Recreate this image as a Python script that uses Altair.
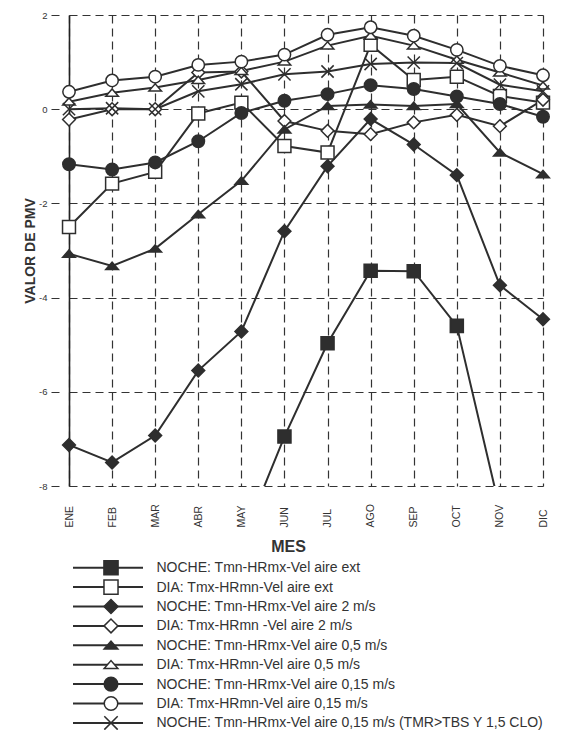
import altair as alt
import pandas as pd

meses = ["ENE", "FEB", "MAR", "ABR", "MAY", "JUN", "JUL", "AGO", "SEP", "OCT", "NOV", "DIC"]

series = [
    "NOCHE: Tmn-HRmx-Vel aire ext",
    "DIA: Tmx-HRmn-Vel aire ext",
    "NOCHE: Tmn-HRmx-Vel aire 2 m/s",
    "DIA: Tmx-HRmn -Vel aire 2 m/s",
    "NOCHE: Tmn-HRmx-Vel aire 0,5 m/s",
    "DIA: Tmx-HRmn-Vel aire 0,5 m/s",
    "NOCHE: Tmn-HRmx-Vel aire 0,15 m/s",
    "DIA: Tmx-HRmn-Vel aire 0,15 m/s",
    "NOCHE: Tmn-HRmx-Vel aire 0,15 m/s (TMR>TBS Y 1,5 CLO)",
]

noche_ext = [None, None, None, None, -9.2, -6.95, -4.97, -3.43, -3.44, -4.60, -8.5, None]
dia_ext = [-2.50, -1.58, -1.33, -0.09, 0.14, -0.78, -0.92, 1.37, 0.62, 0.69, 0.28, 0.14]
noche_2 = [-7.13, -7.50, -6.93, -5.55, -4.72, -2.59, -1.21, -0.21, -0.75, -1.40, -3.74, -4.46]
dia_2 = [-0.22, 0.0, 0.0, 0.78, 0.80, -0.25, -0.46, -0.53, -0.28, -0.12, -0.36, 0.20]
noche_05 = [-3.07, -3.33, -2.96, -2.23, -1.52, -0.43, 0.07, 0.10, 0.07, 0.11, -0.92, -1.38]
dia_05 = [0.16, 0.35, 0.46, 0.62, 0.81, 1.01, 1.35, 1.56, 1.35, 1.05, 0.78, 0.50]
noche_015 = [-1.17, -1.28, -1.13, -0.68, -0.08, 0.18, 0.32, 0.51, 0.43, 0.27, 0.11, -0.16]
dia_015 = [0.37, 0.61, 0.69, 0.94, 1.01, 1.16, 1.58, 1.74, 1.56, 1.26, 0.92, 0.72]
noche_015_tmr = [0.0, 0.02, 0.0, 0.38, 0.53, 0.74, 0.80, 0.96, 0.99, 0.98, 0.52, 0.38]

valores = [noche_ext, dia_ext, noche_2, dia_2, noche_05, dia_05, noche_015, dia_015, noche_015_tmr]

INK = "#2e2e2e"
TRI = "M-1,0.55L1,0.55L0,-0.6Z"
XMARK = "M-1,-1L1,1M-1,1L1,-1"
shapes = ["square", "square", "diamond", "diamond", TRI, TRI, "circle", "circle", XMARK]
fills = [INK, "white", INK, "white", INK, "white", INK, "white", INK]
sizes_plot = [170, 150, 230, 170, 380, 300, 115, 100, 64]
sizes_leg = [200, 180, 240, 190, 420, 330, 240, 150, 80]

rows = []
for name, vals in zip(series, valores):
    for m, v in zip(meses, vals):
        if v is not None:
            rows.append({"serie": name, "mes": m, "pmv": v})
df = pd.DataFrame(rows)

FONT = "Liberation Sans"

x_enc = alt.X(
    "mes:O",
    scale=alt.Scale(type="point", padding=0, domain=meses),
    axis=alt.Axis(
        title="MES", labelAngle=270, labelAlign="left", labelBaseline="middle",
        labelPadding=41, labelFontSize=10.5, labelColor="#333", ticks=False,
        domain=False, grid=True, gridDash=[8, 5], gridColor="#333", gridWidth=1.2,
        titleFontSize=16, titleFontWeight="bold", titleColor="#333",
        titleX=219, titleY=65, titleBaseline="alphabetic",
    ),
)
y_enc = alt.Y(
    "pmv:Q",
    scale=alt.Scale(domain=[-8, 2], nice=False, zero=False),
    axis=alt.Axis(
        values=[-8, -6, -4, -2, 0, 2], labelExpr="'' + datum.value",
        title="VALOR DE PMV", titleFontSize=14, titleFontWeight="bold", titleColor="#333",
        titlePadding=1, tickSize=18, tickDash=[0, 10, 8], tickColor="#333", tickWidth=1.2,
        labelPadding=4, labelFontSize=9.5, labelColor="#333",
        domainColor="#222", domainWidth=1.6, grid=True, gridDash=[8, 5],
        gridColor="#333", gridWidth=1.2,
    ),
)

shape_sc = alt.Scale(domain=series, range=shapes)
fill_sc = alt.Scale(domain=series, range=fills)

lines = alt.Chart(df).mark_line(color=INK, strokeWidth=2, clip=True).encode(
    x=x_enc, y=y_enc, detail="serie:N"
)
points = alt.Chart(df).transform_filter(
    "datum.pmv >= -8 && datum.pmv <= 2"
).mark_point(
    filled=True, stroke=INK, strokeWidth=1.5, opacity=1
).encode(
    x=alt.X("mes:O"),
    y=alt.Y("pmv:Q"),
    shape=alt.Shape("serie:N", scale=shape_sc, legend=None),
    fill=alt.Fill("serie:N", scale=fill_sc, legend=None),
    size=alt.Size("serie:N", scale=alt.Scale(domain=series, range=sizes_plot), legend=None),
)
main = alt.layer(lines, points).properties(width=474, height=471)

leg_df = pd.DataFrame({"serie": series})
leg_y = alt.Y(
    "serie:N",
    sort=series,
    scale=alt.Scale(type="point", padding=0.5, domain=series),
    axis=alt.Axis(
        orient="right", title=None, domain=False, ticks=False, grid=False,
        labelFontSize=14, labelPadding=13, labelLimit=0, labelColor="#333",
    ),
)
leg_lines = alt.Chart(leg_df).mark_rule(color=INK, strokeWidth=2).encode(
    y=leg_y, x=alt.value(4), x2=alt.value(74)
)
leg_points = alt.Chart(leg_df).mark_point(
    filled=True, stroke=INK, strokeWidth=1.5, opacity=1
).encode(
    y=alt.Y("serie:N", sort=series),
    x=alt.value(42),
    shape=alt.Shape("serie:N", scale=shape_sc, legend=None),
    fill=alt.Fill("serie:N", scale=fill_sc, legend=None),
    size=alt.Size("serie:N", scale=alt.Scale(domain=series, range=sizes_leg), legend=None),
)
legend = alt.layer(leg_lines, leg_points).properties(width=74, height=alt.Step(19.4))

chart = (
    alt.vconcat(main, legend, spacing=3)
    .resolve_scale(x="independent", y="independent", size="independent",
                   shape="independent", fill="independent")
    .properties(padding={"left": 15, "top": 2, "right": 0, "bottom": 0})
    .configure(font=FONT)
    .configure_view(stroke=None)
)

chart.save("out.html", embed_options={"renderer": "svg", "actions": False})
